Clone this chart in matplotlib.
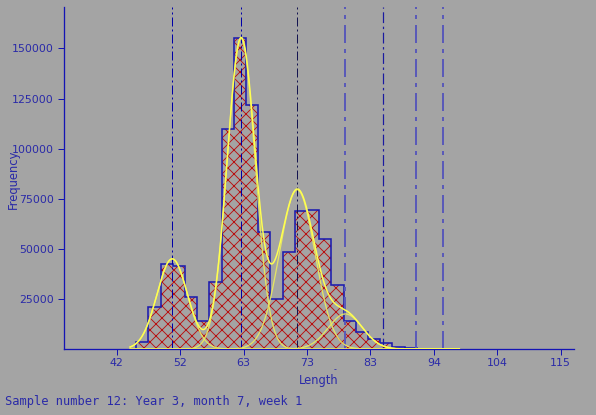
"""Istogramma delle lunghezze con componenti gaussiane della mistura."""

import matplotlib

matplotlib.use("Agg")
import matplotlib.pyplot as plt
import numpy as np

# Classi di lunghezza (ampiezza 2) e frequenze
bin_edges = [45, 47, 49, 51, 53, 55, 57, 59, 61, 63, 65, 67, 69, 71, 73, 75,
             77, 79, 81, 83, 85, 87, 89, 91]
frequency = [3350, 21150, 42500, 41650, 25850, 14000, 33350, 109850, 155000,
             121850, 58350, 24850, 48650, 68650, 69500, 55000, 32000, 14000,
             8350, 4850, 2850, 1150, 300]

# Componenti della mistura: media, deviazione standard, altezza del picco
component_mean = [50.9, 62.2, 71.4, 79.3]
component_sd = [2.5, 2.3, 2.9, 2.8]
component_peak = [45000, 155000, 79500, 17500]

# Linee verticali tratto-punto (medie delle classi di età)
marker_lengths = [50.9, 62.2, 71.4, 79.3, 85.5, 90.9, 95.3]
marker_colors = ["#0000a8", "#0000a8", "#141450", "#5a5ab8", "#1a1aa0",
                 "#5a5ab8", "#5a5ab8"]
marker_widths = [1.0, 1.0, 1.0, 2.0, 1.2, 2.0, 2.0]

x_tick_values = [41.8, 52.2, 62.6, 73.0, 83.4, 93.8, 104.2, 114.6]
x_tick_labels = ["42", "52", "63", "73", "83", "94", "104", "115"]
y_tick_values = [25000, 50000, 75000, 100000, 125000, 150000]
caption = "Sample number 12: Year 3, month 7, week 1"

BG = "#a4a4a4"
BLUE = "#2a2aa8"

# tratteggio fitto (12 px a 72 dpi) e sottile come nell'originale
plt.rcParams["hatch.linewidth"] = 0.9

fig = plt.figure(figsize=(596 / 72, 415 / 72), dpi=72, facecolor=BG)
ax = fig.add_axes([64 / 596, 66 / 415, 510 / 596, 342 / 415], facecolor=BG)

edges = np.asarray(bin_edges, dtype=float)
heights = np.asarray(frequency, dtype=float)

# tratteggio rosso incrociato, poi contorno blu a gradini
ax.bar(edges[:-1], heights, width=np.diff(edges), align="edge",
       facecolor="none", edgecolor="#b81010", hatch="xx", linewidth=0, zorder=2)
ax.stairs(heights, edges, baseline=0, color="#1c1cb0", linewidth=1.6, zorder=3)

for pos, col, lw in zip(marker_lengths, marker_colors, marker_widths):
    ax.axvline(pos, color=col, linewidth=lw, dashes=(9, 3, 2, 3), zorder=4)

grid = np.linspace(44, 98, 600)
total = np.zeros_like(grid)
for mu, sd, peak in zip(component_mean, component_sd, component_peak):
    curve = peak * np.exp(-0.5 * ((grid - mu) / sd) ** 2)
    total += curve
    ax.plot(grid, curve, color="#ecec5c", linewidth=1.3, alpha=0.9, zorder=5)
ax.plot(grid, total, color="#ffff50", linewidth=1.5, zorder=6)

ax.set_xlim(33.15, 116.8)
ax.set_ylim(0, 170700)

for side in ("top", "right"):
    ax.spines[side].set_visible(False)
for side in ("left", "bottom"):
    ax.spines[side].set_color("#1414b4")
    ax.spines[side].set_linewidth(1.3)

ax.set_xticks(x_tick_values, x_tick_labels)
ax.set_yticks(y_tick_values, [str(v) for v in y_tick_values])
ax.tick_params(axis="both", colors="#1414b4", labelcolor=BLUE, length=6,
               width=1, labelsize=11)
ax.tick_params(axis="x", pad=3)
ax.tick_params(axis="y", pad=4)

ax.set_xlabel("Length", fontsize=11.5, color=BLUE)
ax.xaxis.set_label_coords(0.5, -0.0927)
ax.xaxis.label.set_va("center")
ax.set_ylabel("Frequency", fontsize=11.5, color=BLUE)
ax.yaxis.set_label_coords(-0.1, 0.497)
ax.yaxis.label.set_va("center")

fig.text(335 / 596, 1 - 370 / 415, "-", fontsize=8, color=BLUE,
         ha="center", va="center")
fig.text(5 / 596, 1 - 402 / 415, caption, family="DejaVu Sans Mono",
         fontsize=12, color=BLUE, ha="left", va="center")

fig.savefig("out.png", dpi=72, facecolor=BG)
